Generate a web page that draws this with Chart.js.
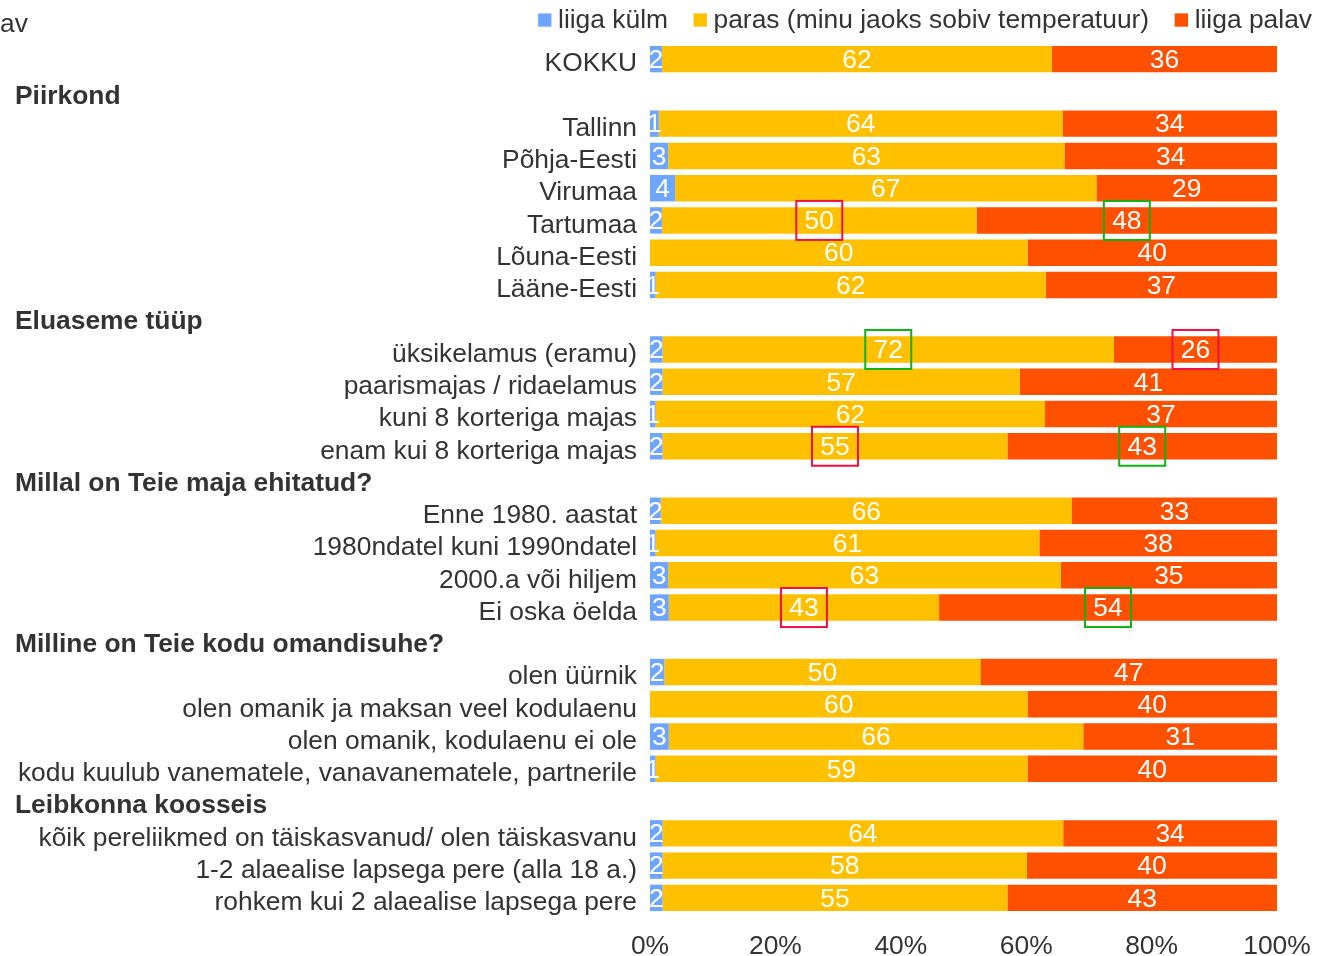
<!DOCTYPE html>
<html>
<head>
<meta charset="utf-8">
<script src="https://cdn.jsdelivr.net/npm/chart.js@4.4.1/dist/chart.umd.min.js"></script>
<style>
  html, body { margin: 0; padding: 0; background: #fff; }
  #wrap { width: 1317px; height: 956px; }
</style>
</head>
<body>
<div id="wrap"><canvas id="chart" width="1317" height="956"></canvas></div>
<script>
const categories = [
  "KOKKU",
  "Piirkond",
  "Tallinn", "Põhja-Eesti", "Virumaa", "Tartumaa", "Lõuna-Eesti", "Lääne-Eesti",
  "Eluaseme tüüp",
  "üksikelamus (eramu)", "paarismajas / ridaelamus", "kuni 8 korteriga majas", "enam kui 8 korteriga majas",
  "Millal on Teie maja ehitatud?",
  "Enne 1980. aastat", "1980ndatel kuni 1990ndatel", "2000.a või hiljem", "Ei oska öelda",
  "Milline on Teie kodu omandisuhe?",
  "olen üürnik", "olen omanik ja maksan veel kodulaenu", "olen omanik, kodulaenu ei ole",
  "kodu kuulub vanematele, vanavanematele, partnerile",
  "Leibkonna koosseis",
  "kõik pereliikmed on täiskasvanud/ olen täiskasvanu", "1-2 alaealise lapsega pere (alla 18 a.)",
  "rohkem kui 2 alaealise lapsega pere"
];
const groupTitles = ["Piirkond", "Eluaseme tüüp", "Millal on Teie maja ehitatud?",
  "Milline on Teie kodu omandisuhe?", "Leibkonna koosseis"];
const seriesNames = ["liiga külm", "paras (minu jaoks sobiv temperatuur)", "liiga palav"];

const liigaKulm = [1.9, null, 1.4, 2.9, 4.0, 1.9, 0, 0.9, null, 2.0, 2.0, 0.9, 2.0, null,
  1.7, 0.9, 2.9, 3.0, null, 2.3, 0, 3.0, 0.9, null, 2.0, 2.0, 2.0];
const paras = [62.2, null, 64.4, 63.2, 67.2, 50.2, 60.2, 62.2, null, 72.0, 57.0, 62.1, 55.0, null,
  65.6, 61.2, 62.6, 43.1, null, 50.4, 60.2, 66.1, 59.3, null, 63.9, 58.1, 55.0];
const liigaPalav = [35.9, null, 34.2, 33.9, 28.8, 47.9, 39.8, 36.9, null, 26.0, 41.0, 37.0, 43.0, null,
  32.7, 37.9, 34.5, 53.9, null, 47.3, 39.8, 30.9, 39.8, null, 34.1, 39.9, 43.0];

const xTicks = [0, 20, 40, 60, 80, 100];
// highlighted labels: [category, series index]
const redBoxes = [["Tartumaa", 1], ["üksikelamus (eramu)", 2], ["enam kui 8 korteriga majas", 1], ["Ei oska öelda", 1]];
const greenBoxes = [["Tartumaa", 2], ["üksikelamus (eramu)", 1], ["enam kui 8 korteriga majas", 2], ["Ei oska öelda", 2]];
const topNote = "av";

const colors = ["#6EA6FF", "#FFC000", "#FF5000"];
const textColor = "#333333";
const fontFamily = "'Liberation Sans', Arial, sans-serif";
const fontSize = 26.4;

const barLabels = {
  id: "barLabels",
  afterDatasetsDraw(chart) {
    const ctx = chart.ctx;
    ctx.save();
    ctx.font = fontSize + "px " + fontFamily;
    ctx.fillStyle = "#fff";
    ctx.textAlign = "center";
    ctx.textBaseline = "middle";
    chart.data.datasets.forEach((ds, i) => {
      chart.getDatasetMeta(i).data.forEach((bar, j) => {
        const v = ds.data[j];
        if (v == null || Math.round(v) === 0) return;
        const p = bar.getCenterPoint();
        ctx.fillText(Math.round(v), p.x, p.y + 1.5);
      });
    });

    const drawBoxes = (list, color) => {
      ctx.strokeStyle = color;
      ctx.lineWidth = 2;
      list.forEach(([name, ds]) => {
        const bar = chart.getDatasetMeta(ds).data[categories.indexOf(name)];
        const p = bar.getCenterPoint();
        ctx.strokeRect(p.x - 23, p.y - 19.5, 46, 39);
      });
    };
    drawBoxes(redBoxes, "#EE1144");
    drawBoxes(greenBoxes, "#12B012");
    ctx.restore();
  },
  afterDraw(chart) {
    const ctx = chart.ctx;
    const yScale = chart.scales.y;
    ctx.save();
    ctx.fillStyle = textColor;
    ctx.textBaseline = "middle";
    ctx.textAlign = "left";

    // group headings
    ctx.font = "bold " + fontSize + "px " + fontFamily;
    groupTitles.forEach((t) => {
      const y = yScale.getPixelForValue(categories.indexOf(t)) + 5;
      ctx.fillText(t, 15, y);
    });

    ctx.font = fontSize + "px " + fontFamily;
    ctx.fillText(topNote, 0, 25);

    // legend
    const box = 13.3, gap = 6.6, space = 25.6;
    const widths = seriesNames.map((s) => ctx.measureText(s).width);
    let total = widths.reduce((a, w) => a + box + gap + w, 0) + space * (seriesNames.length - 1);
    let x = 1312 - total;
    seriesNames.forEach((s, i) => {
      ctx.fillStyle = colors[i];
      ctx.fillRect(x, 13.4, box, box);
      ctx.fillStyle = textColor;
      ctx.fillText(s, x + box + gap, 21);
      x += box + gap + widths[i] + space;
    });
    ctx.restore();
  }
};

const chart = new Chart(document.getElementById("chart"), {
  type: "bar",
  data: {
    labels: categories,
    datasets: [
      { label: seriesNames[0], data: liigaKulm, backgroundColor: colors[0] },
      { label: seriesNames[1], data: paras, backgroundColor: colors[1] },
      { label: seriesNames[2], data: liigaPalav, backgroundColor: colors[2] }
    ]
  },
  options: {
    indexAxis: "y",
    responsive: false,
    animation: false,
    barPercentage: 0.82,
    categoryPercentage: 1,
    layout: { padding: { top: 43, right: 40, bottom: 0, left: 0 } },
    plugins: {
      legend: { display: false },
      tooltip: { enabled: false }
    },
    scales: {
      x: {
        stacked: true,
        min: 0,
        max: 100,
        afterBuildTicks: (scale) => {
          scale.ticks = xTicks.map((v) => ({ value: v }));
        },
        afterFit: (scale) => {
          scale.height = 42;
          scale.paddingLeft = 0;
          scale.paddingRight = 0;
        },
        grid: { display: false, drawTicks: false },
        border: { display: false },
        ticks: {
          padding: 17,
          color: textColor,
          font: { size: fontSize, family: fontFamily },
          callback: (v) => v + "%"
        }
      },
      y: {
        stacked: true,
        afterFit: (scale) => { scale.width = 650; },
        grid: { display: false, drawTicks: false },
        border: { display: false },
        ticks: {
          autoSkip: false,
          padding: 13,
          labelOffset: 5,
          color: textColor,
          font: { size: fontSize, family: fontFamily },
          callback: (v, i) => (groupTitles.includes(categories[i]) ? "" : categories[i])
        }
      }
    }
  },
  plugins: [barLabels]
});
</script>
</body>
</html>
